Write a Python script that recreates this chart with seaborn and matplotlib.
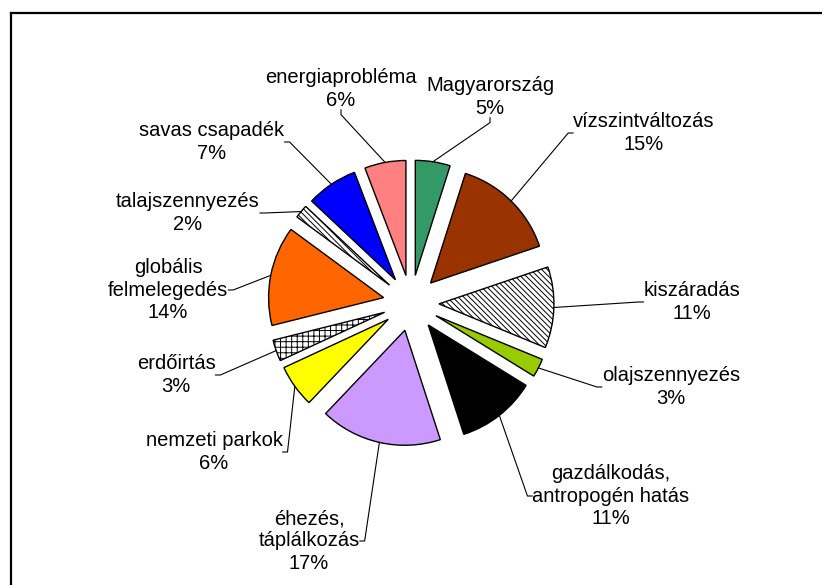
import matplotlib
matplotlib.use("Agg")
import numpy as np
import matplotlib.pyplot as plt
import seaborn as sns


# ==========================================
# DATA
# ==========================================

categories = [
    "Magyarország",
    "vízszintváltozás",
    "kiszáradás",
    "olajszennyezés",
    "gazdálkodás,\nantropogén hatás",
    "éhezés,\ntáplálkozás",
    "nemzeti parkok",
    "erdőirtás",
    "globális\nfelmelegedés",
    "talajszennyezés",
    "savas csapadék",
    "energiaprobléma",
]

shares = [4.9, 14.9, 11.4, 2.6, 11.2, 17.1, 6.0, 3.0, 14.0, 1.9, 7.2, 5.8]

colors = [
    "#339966", "#993300", "#FFFFFF", "#99CC00",
    "#000000", "#CC99FF", "#FFFF00", "#FFFFFF",
    "#FF6600", "#FFFFFF", "#0000FF", "#FF8080",
]

hatches = [None, None, "\\" * 6, None, None, None,
           None, "+++", None, "\\" * 6, None, None]

# label centres, figure pixels from the top-left corner
label_pos = [
    (490, 97), (644, 133), (692, 302), (671, 387),
    (611, 496), (309, 541), (214, 452), (176, 375),
    (168, 290), (188, 213), (212, 142), (341, 89),
]


# ==========================================
# STYLE
# ==========================================

sns.set_style("white")
plt.rcParams["font.family"] = ["Liberation Sans", "DejaVu Sans"]
plt.rcParams["text.color"] = "black"
plt.rcParams["hatch.linewidth"] = 0.7

W, H = 822, 585
CX, CY = 411, 303      # pie centre in pixels
R_PX = 115             # pie radius in pixels
EXPLODE = 0.243


# ==========================================
# PIE
# ==========================================

fig = plt.figure(figsize=(W / 100, H / 100), dpi=100)
ax = fig.add_axes([0, 0, 1, 1])

wedges, _ = ax.pie(
    shares,
    colors=colors,
    startangle=90,
    counterclock=False,
    explode=[EXPLODE] * len(shares),
    radius=1.0,
    wedgeprops=dict(edgecolor="black", linewidth=1.0),
)

for wedge, hatch in zip(wedges, hatches):
    if hatch:
        wedge.set_hatch(hatch)

ax.set_xlim(-CX / R_PX, (W - CX) / R_PX)
ax.set_ylim(-(H - CY) / R_PX, CY / R_PX)
ax.set_aspect("equal")
ax.axis("off")


# ==========================================
# LABELS WITH LEADER LINES
# ==========================================

for wedge, name, value, (px, py) in zip(wedges, categories, shares, label_pos):

    ang = np.deg2rad((wedge.theta1 + wedge.theta2) / 2)

    tip = (
        (1 + EXPLODE) * np.cos(ang),
        (1 + EXPLODE) * np.sin(ang),
    )

    dx = px - CX
    dy = CY - py

    if dy > 0 and abs(dx) < 0.6 * dy:
        relpos, angle_a = (0.5, 0.0), -90
    elif dx < 0:
        relpos, angle_a = (1.0, 0.5), 0
    else:
        relpos, angle_a = (0.0, 0.5), 180

    ax.annotate(
        f"{name}\n{round(value)}%",
        xy=tip,
        xytext=(px / W, 1 - py / H),
        textcoords="figure fraction",
        ha="center",
        va="center",
        fontsize=14.5,
        color="black",
        linespacing=1.22,
        arrowprops=dict(
            arrowstyle="-",
            color="black",
            lw=0.8,
            connectionstyle=f"arc,angleA={angle_a},angleB=0,armA=5,armB=0,rad=0",
            relpos=relpos,
            patchA=None,
            shrinkA=0,
            shrinkB=0,
        ),
    )


# ==========================================
# FRAME (only left and top edges visible)
# ==========================================

x0 = 11 / W
y0 = 1 - 13 / H

fig.add_artist(plt.Line2D([x0, x0], [0, y0], transform=fig.transFigure,
                          color="black", lw=1.6, solid_capstyle="projecting"))
fig.add_artist(plt.Line2D([x0, 1], [y0, y0], transform=fig.transFigure,
                          color="black", lw=1.6, solid_capstyle="projecting"))

fig.savefig("out.png", dpi=100)
